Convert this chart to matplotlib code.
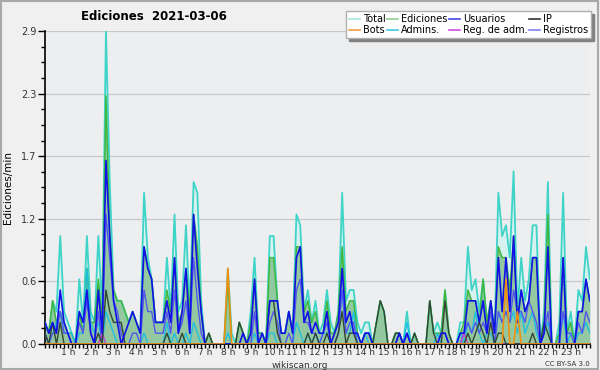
import numpy as np
import matplotlib
matplotlib.use("Agg")
import matplotlib.pyplot as plt
from matplotlib.patches import Rectangle

# edits per minute, one value per 10 minutes (144 per day)
total = [0.2, 0.1, 0.4, 0.3, 1.0, 0.3,  0.2, 0.1, 0.0, 0.6, 0.2, 1.0,
         0.3, 0.2, 1.0, 0.3, 2.9, 1.5,  0.5, 0.4, 0.4, 0.3, 0.2, 0.3,
         0.2, 0.1, 1.4, 0.8, 0.6, 0.2,  0.2, 0.2, 0.8, 0.3, 1.2, 0.3,
         0.4, 1.1, 0.3, 1.5, 1.4, 0.4,  0.0, 0.1, 0.0, 0.0, 0.0, 0.0,
         0.7, 0.1, 0.0, 0.2, 0.1, 0.0,  0.3, 0.8, 0.1, 0.1, 0.0, 1.0,
         1.0, 0.4, 0.1, 0.1, 0.3, 0.1,  1.2, 1.1, 0.3, 0.5, 0.2, 0.4,
         0.1, 0.2, 0.5, 0.2, 0.1, 0.3,  1.4, 0.4, 0.5, 0.5, 0.2, 0.1,
         0.2, 0.2, 0.0, 0.2, 0.4, 0.3,  0.0, 0.0, 0.1, 0.1, 0.0, 0.3,
         0.0, 0.1, 0.0, 0.0, 0.0, 0.4,  0.1, 0.2, 0.1, 0.5, 0.1, 0.0,
         0.0, 0.2, 0.2, 0.9, 0.5, 0.6,  0.3, 0.6, 0.2, 0.4, 0.1, 1.4,
         1.0, 1.1, 0.8, 1.6, 0.3, 0.8,  0.4, 0.6, 1.1, 1.1, 0.0, 0.3,
         1.5, 0.0, 0.0, 0.2, 1.4, 0.1,  0.3, 0.0, 0.5, 0.4, 0.9, 0.6]

ediciones = [0.2, 0.1, 0.4, 0.2, 0.3, 0.2,  0.1, 0.1, 0.0, 0.3, 0.1, 0.7,
             0.2, 0.2, 0.6, 0.2, 2.3, 1.0,  0.5, 0.4, 0.4, 0.3, 0.2, 0.3,
             0.2, 0.1, 0.9, 0.7, 0.6, 0.2,  0.2, 0.2, 0.5, 0.3, 0.8, 0.2,
             0.3, 0.7, 0.3, 1.2, 0.9, 0.3,  0.0, 0.1, 0.0, 0.0, 0.0, 0.0,
             0.6, 0.0, 0.0, 0.2, 0.1, 0.0,  0.2, 0.6, 0.1, 0.1, 0.0, 0.8,
             0.8, 0.4, 0.1, 0.1, 0.3, 0.1,  0.9, 0.9, 0.3, 0.4, 0.2, 0.3,
             0.1, 0.1, 0.4, 0.1, 0.1, 0.3,  0.9, 0.3, 0.4, 0.4, 0.1, 0.0,
             0.1, 0.1, 0.0, 0.2, 0.4, 0.3,  0.0, 0.0, 0.1, 0.1, 0.0, 0.1,
             0.0, 0.1, 0.0, 0.0, 0.0, 0.4,  0.1, 0.1, 0.1, 0.5, 0.1, 0.0,
             0.0, 0.1, 0.2, 0.5, 0.4, 0.4,  0.2, 0.6, 0.2, 0.4, 0.1, 0.9,
             0.8, 0.8, 0.5, 1.0, 0.2, 0.5,  0.3, 0.4, 0.8, 0.8, 0.0, 0.2,
             1.2, 0.0, 0.0, 0.1, 0.8, 0.1,  0.2, 0.0, 0.3, 0.3, 0.6, 0.4]

usuarios = [0.2, 0.1, 0.2, 0.1, 0.5, 0.2,  0.1, 0.0, 0.0, 0.3, 0.2, 0.5,
            0.1, 0.0, 0.5, 0.1, 1.7, 1.0,  0.4, 0.2, 0.0, 0.1, 0.2, 0.3,
            0.2, 0.1, 0.9, 0.7, 0.6, 0.2,  0.2, 0.2, 0.4, 0.2, 0.8, 0.1,
            0.3, 0.7, 0.1, 1.2, 0.7, 0.3,  0.0, 0.0, 0.0, 0.0, 0.0, 0.0,
            0.0, 0.0, 0.0, 0.0, 0.1, 0.0,  0.1, 0.6, 0.0, 0.1, 0.0, 0.4,
            0.4, 0.4, 0.1, 0.1, 0.3, 0.1,  0.8, 0.9, 0.2, 0.3, 0.1, 0.2,
            0.1, 0.1, 0.3, 0.0, 0.1, 0.2,  0.7, 0.2, 0.3, 0.1, 0.1, 0.0,
            0.1, 0.1, 0.0, 0.0, 0.0, 0.0,  0.0, 0.0, 0.0, 0.1, 0.0, 0.1,
            0.0, 0.0, 0.0, 0.0, 0.0, 0.0,  0.0, 0.0, 0.1, 0.1, 0.0, 0.0,
            0.0, 0.1, 0.1, 0.4, 0.4, 0.4,  0.2, 0.4, 0.1, 0.4, 0.1, 0.8,
            0.3, 0.8, 0.3, 1.0, 0.2, 0.5,  0.3, 0.4, 0.8, 0.8, 0.0, 0.1,
            0.9, 0.0, 0.0, 0.0, 0.8, 0.0,  0.0, 0.0, 0.3, 0.3, 0.6, 0.4]

ip = [0.1, 0.0, 0.2, 0.0, 0.2, 0.0,  0.0, 0.0, 0.0, 0.0, 0.0, 0.0,
      0.0, 0.0, 0.1, 0.0, 0.5, 0.3,  0.2, 0.2, 0.2, 0.0, 0.0, 0.0,
      0.0, 0.0, 0.0, 0.0, 0.0, 0.0,  0.0, 0.0, 0.1, 0.0, 0.0, 0.0,
      0.1, 0.0, 0.0, 0.0, 0.0, 0.0,  0.0, 0.1, 0.0, 0.0, 0.0, 0.0,
      0.0, 0.0, 0.0, 0.2, 0.1, 0.0,  0.0, 0.0, 0.0, 0.0, 0.0, 0.4,
      0.4, 0.1, 0.0, 0.0, 0.0, 0.0,  0.0, 0.0, 0.0, 0.1, 0.0, 0.1,
      0.0, 0.0, 0.1, 0.0, 0.0, 0.1,  0.3, 0.0, 0.1, 0.1, 0.0, 0.0,
      0.0, 0.0, 0.0, 0.2, 0.4, 0.3,  0.0, 0.0, 0.1, 0.1, 0.0, 0.0,
      0.0, 0.1, 0.0, 0.0, 0.0, 0.4,  0.1, 0.0, 0.0, 0.4, 0.1, 0.0,
      0.0, 0.0, 0.0, 0.1, 0.0, 0.1,  0.2, 0.1, 0.0, 0.2, 0.0, 0.1,
      0.1, 0.0, 0.0, 0.0, 0.0, 0.0,  0.0, 0.0, 0.1, 0.0, 0.0, 0.2,
      0.1, 0.0, 0.0, 0.0, 0.0, 0.0,  0.0, 0.0, 0.0, 0.0, 0.0, 0.0]

bots = [0.0] * 48 + [0.7] + [0.0] * 72 + [0.6, 0.0, 0.0, 0.3] + [0.0] * 19

admins = [0.1, 0.0, 0.1, 0.2, 0.3, 0.1,  0.1, 0.1, 0.0, 0.1, 0.1, 0.7,
          0.2, 0.1, 0.2, 0.0, 0.3, 0.2,  0.1, 0.0, 0.0, 0.0, 0.0, 0.0,
          0.0, 0.0, 0.1, 0.0, 0.0, 0.0,  0.0, 0.0, 0.2, 0.0, 0.1, 0.0,
          0.0, 0.1, 0.0, 0.2, 0.1, 0.0,  0.0, 0.0, 0.0, 0.0, 0.0, 0.0,
          0.1, 0.0, 0.0, 0.0, 0.0, 0.0,  0.0, 0.1, 0.0, 0.0, 0.0, 0.1,
          0.1, 0.0, 0.0, 0.0, 0.0, 0.0,  0.2, 0.1, 0.0, 0.1, 0.0, 0.1,
          0.0, 0.1, 0.1, 0.0, 0.0, 0.1,  0.5, 0.1, 0.1, 0.3, 0.0, 0.0,
          0.1, 0.0, 0.0, 0.0, 0.0, 0.0,  0.0, 0.0, 0.0, 0.0, 0.0, 0.2,
          0.0, 0.0, 0.0, 0.0, 0.0, 0.0,  0.0, 0.1, 0.0, 0.0, 0.0, 0.0,
          0.0, 0.1, 0.0, 0.2, 0.1, 0.3,  0.1, 0.0, 0.1, 0.1, 0.0, 0.3,
          0.2, 0.3, 0.2, 0.3, 0.1, 0.3,  0.1, 0.2, 0.3, 0.1, 0.0, 0.1,
          0.2, 0.0, 0.0, 0.0, 0.3, 0.0,  0.1, 0.0, 0.1, 0.1, 0.2, 0.1]

reg_adm = [0.0] * 15 + [0.1] + [0.0] * 94 + [0.1] + [0.0] * 33

registros = [0.1, 0.0, 0.1, 0.1, 0.3, 0.1,  0.1, 0.0, 0.0, 0.2, 0.1, 0.4,
             0.1, 0.0, 0.3, 0.0, 1.2, 0.8,  0.4, 0.3, 0.1, 0.0, 0.0, 0.1,
             0.1, 0.0, 0.5, 0.3, 0.3, 0.1,  0.1, 0.1, 0.3, 0.1, 0.5, 0.1,
             0.2, 0.4, 0.1, 0.8, 0.4, 0.1,  0.0, 0.0, 0.0, 0.0, 0.0, 0.0,
             0.0, 0.0, 0.0, 0.0, 0.0, 0.0,  0.0, 0.3, 0.0, 0.0, 0.0, 0.2,
             0.3, 0.2, 0.0, 0.0, 0.1, 0.0,  0.5, 0.6, 0.2, 0.2, 0.1, 0.1,
             0.0, 0.1, 0.2, 0.0, 0.0, 0.1,  0.5, 0.1, 0.2, 0.2, 0.0, 0.0,
             0.1, 0.1, 0.0, 0.0, 0.0, 0.0,  0.0, 0.0, 0.0, 0.1, 0.0, 0.1,
             0.0, 0.0, 0.0, 0.0, 0.0, 0.0,  0.0, 0.0, 0.1, 0.1, 0.0, 0.0,
             0.0, 0.0, 0.1, 0.2, 0.1, 0.2,  0.1, 0.2, 0.1, 0.3, 0.0, 0.3,
             0.2, 0.3, 0.2, 0.5, 0.3, 0.3,  0.2, 0.4, 0.3, 0.2, 0.0, 0.1,
             0.3, 0.0, 0.0, 0.0, 0.3, 0.1,  0.1, 0.0, 0.2, 0.1, 0.3, 0.2]

hour_labels = ["%d h" % h for h in range(1, 24)]
ytick_vals = [0.0, 0.58, 1.16, 1.74, 2.32, 2.9]
ytick_labels = ["0.0", "0.6", "1.2", "1.7", "2.3", "2.9"]

t = np.arange(len(total)) / 6.0

fig = plt.figure(figsize=(6, 3.7), dpi=100, facecolor="#f0f0f0")
fig.patches.append(Rectangle((0.002, 0.003), 0.995, 0.994, transform=fig.transFigure,
                             fill=False, edgecolor="#a8a8a8", linewidth=1.5))
ax = fig.add_axes([0.075, 0.0703, 0.908, 0.846])
ax.set_facecolor("#edeef0")

# fills
ax.fill_between(t, total, color="#d6f1ef", lw=0, zorder=1)
ax.fill_between(t, ediciones, color="#93c8a0", lw=0, zorder=2)

ax.plot(t, total, color="#3fd4c8", lw=1.3, zorder=3)
ax.plot(t, ediciones, color="#40b840", lw=1.1, zorder=4)
ax.plot(t, admins, color="#20bfe0", lw=1.0, zorder=5)
ax.plot(t, registros, color="#5555ee", lw=1.0, zorder=5)
ax.plot(t, reg_adm, color="#c040d0", lw=1.0, zorder=5)
ax.plot(t, ip, color="#334433", lw=1.0, zorder=6)
ax.plot(t, usuarios, color="#1010e8", lw=1.2, zorder=7)
ax.plot(t, bots, color="#f09010", lw=1.2, zorder=8)

ax.set_xlim(0, t[-1])
ax.set_ylim(0, 2.9)

ax.set_yticks(ytick_vals)
ax.set_yticklabels(ytick_labels, fontsize=7, color="#333333")
ax.set_yticks(np.linspace(0, 2.9, 21), minor=True)
ax.yaxis.grid(True, color="#c8c8c8", lw=0.9)
ax.set_axisbelow(True)
ax.tick_params(axis="y", which="major", length=5, width=1, pad=1)
ax.tick_params(axis="y", which="minor", length=3, width=1)

ax.set_xticks(range(1, 24))
ax.set_xticklabels(hour_labels, fontsize=6.5, color="#333333")
ax.set_xticks(t, minor=True)
ax.tick_params(axis="x", which="both", length=3, width=1, pad=0)

for s in ["top", "right"]:
    ax.spines[s].set_visible(False)
ax.spines["left"].set_linewidth(1.2)
ax.spines["bottom"].set_linewidth(1.2)

ax.set_ylabel("Ediciones/min", fontsize=7.5, labelpad=6)

fig.text(0.256, 0.955, "Ediciones  2021-03-06", fontsize=8.5, fontweight="bold",
         ha="center", va="center")
fig.text(0.5, 0.013, "wikiscan.org", fontsize=6.5, ha="center", va="center", color="#333333")
fig.text(0.983, 0.016, "CC BY-SA 3.0", fontsize=5, ha="right", va="center", color="#333333")

legend_items = [
    ("Total", "#a8e6e0"), ("Bots", "#f0a040"),
    ("Ediciones", "#90d090"), ("Admins.", "#40c8e0"),
    ("Usuarios", "#4848e0"), ("Reg. de adm.", "#d050e0"),
    ("IP", "#333333"), ("Registros", "#8080f0"),
]
handles = [plt.Line2D([], [], color=c, lw=1.2) for _, c in legend_items]
labels = [n for n, _ in legend_items]
fig.legend(handles, labels, ncol=4, loc="upper right", bbox_to_anchor=(0.985, 0.97),
           fontsize=7, frameon=True, fancybox=False, edgecolor="#b0b0b0",
           facecolor="white", framealpha=1, shadow={"color": "#808080", "alpha": 1},
           handlelength=1.1, handletextpad=0.3, columnspacing=0.2,
           labelspacing=0.15, borderpad=0.3, borderaxespad=0)

fig.savefig("out.png", dpi=100, facecolor=fig.get_facecolor())
